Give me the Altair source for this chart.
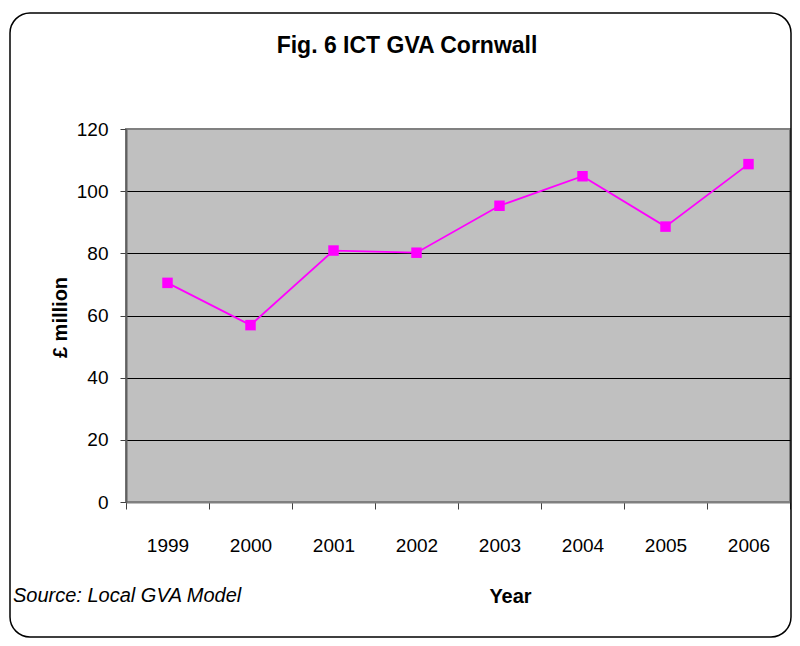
import altair as alt
import pandas as pd

years = ["1999", "2000", "2001", "2002", "2003", "2004", "2005", "2006"]
gva = [70.5, 56.9, 80.9, 80.2, 95.3, 104.8, 88.6, 108.7]

title_text = "Fig. 6  ICT GVA Cornwall"
source_text = "Source: Local GVA Model"
x_title = "Year"
y_title = "£ million"

FONT = "Liberation Sans Narrow, Liberation Sans, Arial, sans-serif"
W, H = 664, 373

df = pd.DataFrame({"Year": years, "GVA": gva})
one = pd.DataFrame({"t": [title_text], "s": [source_text]})

x_enc = alt.X(
    "Year:N",
    sort=years,
    scale=alt.Scale(paddingInner=0, paddingOuter=0),
    axis=alt.Axis(
        title=x_title,
        labelAngle=0,
        labelFont=FONT,
        labelFontSize=19,
        labelColor="#000000",
        labelPadding=27,
        tickBand="extent",
        tickSize=7,
        tickColor="#404040",
        tickWidth=1,
        domainColor="#808080",
        domainWidth=2,
        titleFont=FONT,
        titleFontSize=20,
        titleFontWeight="bold",
        titleColor="#000000",
        titleX=384,
        titleY=94,
        titleBaseline="middle",
        titleAlign="center",
        grid=False,
    ),
)
y_enc = alt.Y(
    "GVA:Q",
    scale=alt.Scale(domain=[0, 120], nice=False),
    axis=alt.Axis(
        title=y_title,
        values=[0, 20, 40, 60, 80, 100, 120],
        labelFont=FONT,
        labelFontSize=19,
        labelColor="#000000",
        labelPadding=12,
        tickSize=6,
        tickColor="#404040",
        domainColor="#606060",
        domainWidth=2,
        titleFont=FONT,
        titleFontSize=20,
        titleFontWeight="bold",
        titleColor="#000000",
        titleX=-66,
        titleY=188,
        titleBaseline="middle",
        titleAlign="center",
        grid=True,
        gridColor={
            "condition": {"test": "datum.value === 120 || datum.value === 0", "value": "#808080"},
            "value": "#000000",
        },
        gridWidth=1,
    ),
)

frame = alt.Chart(one).mark_rect(
    fillOpacity=0, stroke="#000000", strokeWidth=1.5, cornerRadius=20
).encode(
    x=alt.value(-116), x2=alt.value(665), y=alt.value(-116), y2=alt.value(508)
)

line = alt.Chart(df).mark_line(color="#FF00FF", strokeWidth=1.8).encode(x=x_enc, y=y_enc)
pts = alt.Chart(df).mark_square(color="#FF00FF", size=110, opacity=1).encode(
    x=alt.X("Year:N", sort=years), y="GVA:Q"
)

title = alt.Chart(one).mark_text(
    font=FONT, fontSize=23, fontWeight="bold", color="#000000", align="center", baseline="middle"
).encode(text="t:N", x=alt.value(281), y=alt.value(-83))

source = alt.Chart(one).mark_text(
    font=FONT, fontSize=20, fontStyle="italic", color="#000000", align="left", baseline="middle"
).encode(text="s:N", x=alt.value(-113), y=alt.value(467))

chart = (
    alt.layer(frame, line, pts, title, source)
    .properties(
        width=W,
        height=H,
        autosize=alt.AutoSizeParams(type="none"),
        padding={"left": 118, "top": 121, "right": 2, "bottom": 136},
        background="#FFFFFF",
        view=alt.ViewBackground(fill="#C0C0C0", stroke="#808080", strokeWidth=2),
    )
)

chart.save("out.html", embed_options={"renderer": "svg", "actions": False})
